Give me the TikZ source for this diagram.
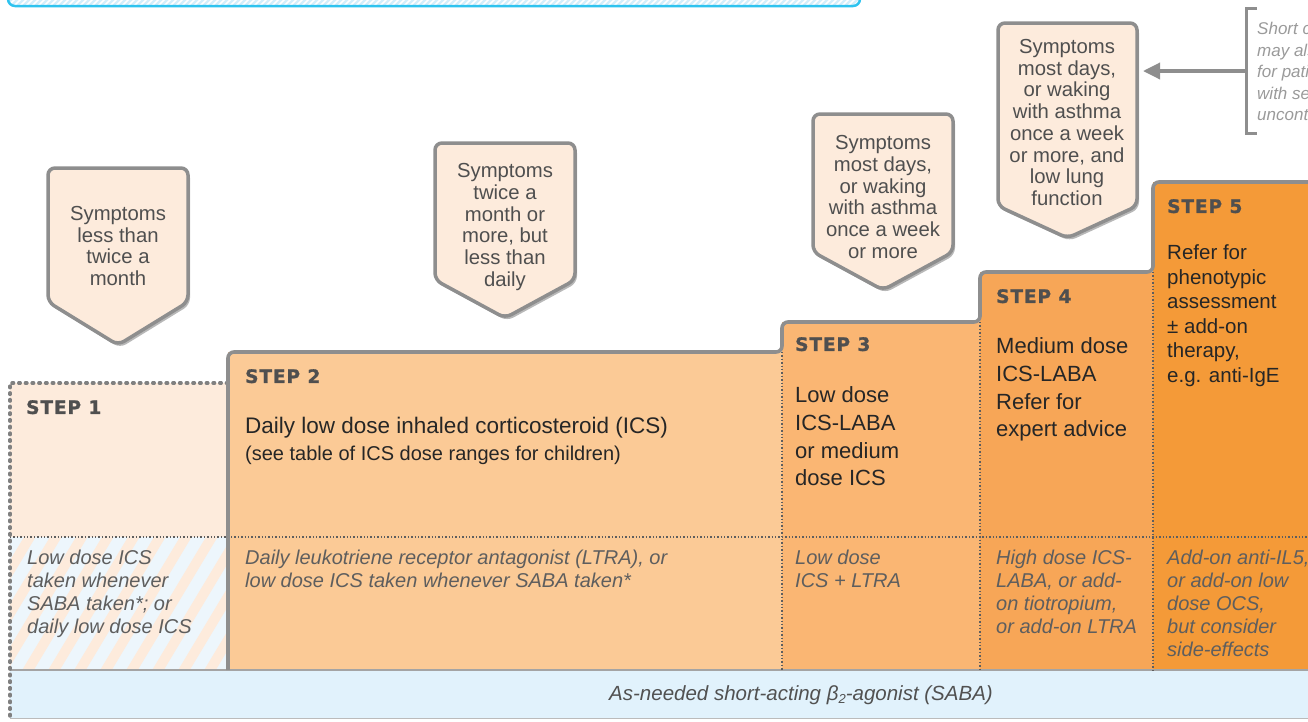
\documentclass[tikz,border=0pt]{standalone}
\usepackage{fontspec}
\setmainfont{Liberation Sans}
\newfontfamily\labelfont{DejaVu Sans Bold}[FakeBold=1.2, LetterSpace=5]
\usetikzlibrary{shadows,arrows.meta}

\definecolor{stepone}{HTML}{FDEBDC}
\definecolor{steptwo}{HTML}{FBCA96}
\definecolor{stepthree}{HTML}{FAB673}
\definecolor{stepfour}{HTML}{F7A657}
\definecolor{stepfive}{HTML}{F49A38}
\definecolor{sababg}{HTML}{E1F2FC}
\definecolor{hatchblue}{HTML}{EDF6FC}
\definecolor{bandblue}{HTML}{D3EEFB}
\definecolor{bandline}{HTML}{2EC3EF}
\definecolor{outline}{HTML}{8E8E8E}
\definecolor{maintext}{HTML}{262626}
\definecolor{subtext}{HTML}{5E5E5E}
\definecolor{symtext}{HTML}{4F4F4F}
\definecolor{notetext}{HTML}{9A9A9A}

\newcommand\sympshape[6]{%
  % #1 name, #2 left, #3 right, #4 top, #5 bottom of sides, #6 tip
  \path[symshape] (#2,#5) -- (#2,#4) -- (#3,#4) -- (#3,#5) -- ({(#2+#3)/2},#6) -- cycle;
  \coordinate (#1) at ({(#2+#3)/2},#4);
}

\tikzset{
  symshape/.style={draw=outline, line width=3.5pt, fill=stepone, rounded corners=7pt,
    drop shadow={shadow xshift=2pt, shadow yshift=-3pt, opacity=.28, fill=black}},
  symlabel/.style={align=center, text=symtext, inner sep=0pt,
    font=\fontsize{20.3}{21.7}\selectfont},
  steplabel/.style={anchor=north west, inner sep=0pt, text=symtext,
    font=\labelfont\fontsize{18.5}{20}\selectfont},
  maintxt/.style={anchor=north west, inner sep=0pt, align=left, text=maintext,
    font=\fontsize{22}{27.7}\selectfont},
  subtxt/.style={anchor=north west, inner sep=0pt, align=left, text=subtext,
    font=\itshape\fontsize{20}{23}\selectfont},
  sepdots/.style={draw=subtext, line width=1.4pt, dash pattern=on 1.4pt off 2pt},
  bigdots/.style={draw=outline!90!black, line width=3.4pt, line cap=round, dash pattern=on 1.6pt off 5.1pt},
  stepline/.style={draw=outline, line width=3.6pt, rounded corners=6pt},
}

\begin{document}
\begin{tikzpicture}[x=1pt,y=-1pt]
\useasboundingbox (0,0) rectangle (1308,721);
\clip (0,0) rectangle (1308,721);

% hatched banner at the top edge
\begin{scope}
  \clip[rounded corners=7pt] (8,-40) rectangle (860,6);
  \fill[bandblue] (8,-40) rectangle (860,6);
  \foreach \i in {0,6,...,880} \draw[white, line width=1.6pt] (\i,8) -- ++(16,-16);
\end{scope}
\draw[bandline, line width=2.5pt, rounded corners=7pt] (8,-40) rectangle (860,6);

% step backgrounds
\fill[stepone] (10,383) rectangle (228,537);
\begin{scope}
  \clip (10,537) rectangle (228,670);
  \fill[hatchblue] (10,537) rectangle (228,670);
  \foreach \i in {-160,-134,...,260} \draw[stepone, line width=10pt] (\i,680) -- ++(96,-160);
\end{scope}
\fill[steptwo] (228,352) rectangle (782,670);
\fill[stepthree] (782,322) rectangle (980,670);
\fill[stepfour] (980,272) rectangle (1153,670);
\fill[stepfive] (1153,182) rectangle (1310,670);

% reliever band
\fill[sababg] (10,670) rectangle (1310,718);
\draw[outline!80, line width=2pt] (10,670) -- (1310,670);
\draw[outline!60, line width=1.5pt] (10,718.5) -- (1310,718.5);

% dotted guides
\draw[sepdots] (10,537) -- (1310,537);
\draw[sepdots] (782,352) -- (782,670);
\draw[sepdots] (980,322) -- (980,670);
\draw[sepdots] (1153,272) -- (1153,670);
\draw[bigdots] (228,383) -- (10,383) -- (10,721);

% staircase outline
\draw[stepline] (228,670) -- (228,352) -- (782,352) -- (782,322) -- (980,322)
  -- (980,272) -- (1153,272) -- (1153,182) -- (1320,182);

% symptom shields
\sympshape{sh1}{48}{188}{168}{302}{345}
\sympshape{sh2}{435}{575}{143}{280}{318}
\sympshape{sh3}{813}{953}{114}{252}{290}
\sympshape{sh4}{998}{1137}{23}{206}{238}
\node[symlabel] (sym1) at (118,246) {Symptoms\\less than\\twice a\\month};
\node[symlabel] (sym2) at (505,227) {Symptoms\\twice a\\month or\\more, but\\less than\\daily};
\node[symlabel] (sym3) at (883,197) {Symptoms\\most days,\\or waking\\with asthma\\once a week\\or more};
\node[symlabel] (sym4) at (1067,122.5) {Symptoms\\most days,\\or waking\\with asthma\\once a week\\or more, and\\low lung\\function};

% step headings
\node[steplabel] (l1) at (26,400) {STEP 1};
\node[steplabel] (l2) at (245,369) {STEP 2};
\node[steplabel] (l3) at (795,337) {STEP 3};
\node[steplabel] (l4) at (996,289) {STEP 4};
\node[steplabel] (l5) at (1167,199) {STEP 5};

% preferred options
\node[maintxt, font=\fontsize{22.5}{27.7}\selectfont] (m2) at (245,416.5) {Daily low dose inhaled corticosteroid (ICS)};
\node[maintxt, font=\fontsize{20}{22}\selectfont] (m2b) at (245,446) {(see table of ICS dose ranges for children)};
\node[maintxt] (m3) at (795,386.5) {Low dose\\ICS-LABA\\or medium\\dose ICS};
\node[maintxt] (m4) at (996,337.5) {Medium dose\\ICS-LABA\\Refer for\\expert advice};
\node[maintxt, font=\fontsize{20.5}{24.6}\selectfont] (m5) at (1167,244.5) {Refer for\\phenotypic\\assessment\\± add-on\\therapy,\\e.g. anti-IgE};

% other options
\node[subtxt] (o1) at (27,549.5) {Low dose ICS\\taken whenever\\SABA taken*; or\\daily low dose ICS};
\node[subtxt] (o2) at (245,549.5) {Daily leukotriene receptor antagonist (LTRA), or\\low dose ICS taken whenever SABA taken*};
\node[subtxt] (o3) at (795,549.5) {Low dose\\ICS + LTRA};
\node[subtxt] (o4) at (996,549.5) {High dose ICS-\\LABA, or add-\\on tiotropium,\\or add-on LTRA};
\node[subtxt] (o5) at (1167,549.5) {Add-on anti-IL5,\\or add-on low\\dose OCS,\\but consider\\side-effects};

% reliever
\node[subtxt, anchor=center, text=maintext!80, font=\itshape\fontsize{20.5}{23}\selectfont] (saba) at (801,695)
  {As-needed short-acting β\raisebox{-0.3ex}{\fontsize{13}{13}\selectfont 2}-agonist (SABA)};

% side note with bracket and arrow
\draw[outline, line width=3pt] (1257,8) -- (1246,8) -- (1246,133) -- (1257,133);
\coordinate (brk) at (1246,71);
\coordinate (sh4tip) at (1143,71);
\draw[outline, line width=3.5pt, -{Triangle[length=17pt,width=16pt]}] (brk) -- (sh4tip);
\node[subtxt, text=notetext, font=\itshape\fontsize{17}{21.6}\selectfont] (note) at (1257,22)
  {Short course OCS\\may also be needed\\for patients\\with severely\\uncontrolled asthma};
\end{tikzpicture}
\end{document}
